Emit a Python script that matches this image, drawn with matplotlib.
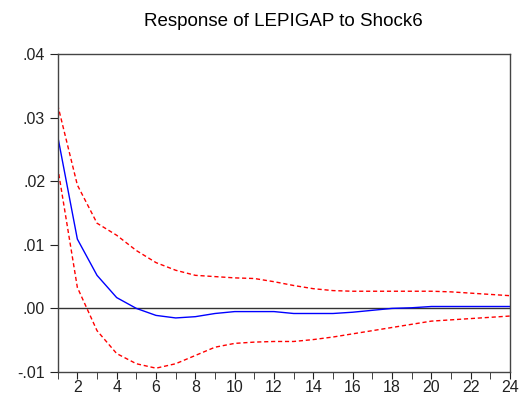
import numpy as np
import matplotlib
matplotlib.use("Agg")
import matplotlib.pyplot as plt
from matplotlib.ticker import FuncFormatter, MultipleLocator

plt.rcParams['font.family'] = ['Liberation Sans', 'DejaVu Sans']

periods = np.arange(1, 25)
response = [0.0271, 0.0109, 0.0052, 0.0017, 0.0000, -0.0011, -0.0015, -0.0013,
            -0.0008, -0.0005, -0.0005, -0.0005, -0.0008, -0.0008, -0.0008, -0.0006,
            -0.0003, 0.0000, 0.0001, 0.0003, 0.0003, 0.0003, 0.0003, 0.0003]
upper = [0.0320, 0.0194, 0.0134, 0.0115, 0.0091, 0.0072, 0.0060, 0.0052,
         0.0050, 0.0048, 0.0047, 0.0042, 0.0036, 0.0031, 0.0028, 0.0027,
         0.0027, 0.0027, 0.0027, 0.0027, 0.0026, 0.0024, 0.0022, 0.0020]
lower = [0.0222, 0.0033, -0.0035, -0.0071, -0.0087, -0.0094, -0.0087, -0.0074,
         -0.0061, -0.0055, -0.0053, -0.0052, -0.0052, -0.0049, -0.0045, -0.0040,
         -0.0035, -0.0030, -0.0025, -0.0020, -0.0018, -0.0016, -0.0014, -0.0012]

fig = plt.figure(figsize=(5.22, 3.96), dpi=100)
ax = fig.add_axes([0.1105, 0.0606, 0.8665, 0.803])

ax.axhline(0, color='#333333', lw=1.0)
ax.plot(periods, response, color='blue', lw=1.0)
ax.plot(periods, upper, color='red', lw=1.0, ls=(0, (3, 2)))
ax.plot(periods, lower, color='red', lw=1.0, ls=(0, (3, 2)))

ax.set_xlim(1, 24)
ax.set_ylim(-0.01, 0.04)
ax.xaxis.set_major_locator(MultipleLocator(2))
ax.xaxis.set_minor_locator(MultipleLocator(1))
ax.yaxis.set_major_locator(MultipleLocator(0.01))

def fmt(v, pos):
    s = '%.2f' % v
    return s.replace('0.', '.', 1)

ax.yaxis.set_major_formatter(FuncFormatter(fmt))
ax.tick_params(axis='both', which='both', direction='out', labelsize=11.5,
               color='#222222', labelcolor='#222222')
ax.tick_params(axis='y', which='major', length=6, pad=3)
ax.tick_params(axis='x', which='both', length=5, pad=1)

for sp in ax.spines.values():
    sp.set_color('#444444')
    sp.set_linewidth(1.0)

ax.set_title('Response of LEPIGAP to Shock6', fontsize=13.5, pad=20)

fig.savefig('out.png', dpi=100)
